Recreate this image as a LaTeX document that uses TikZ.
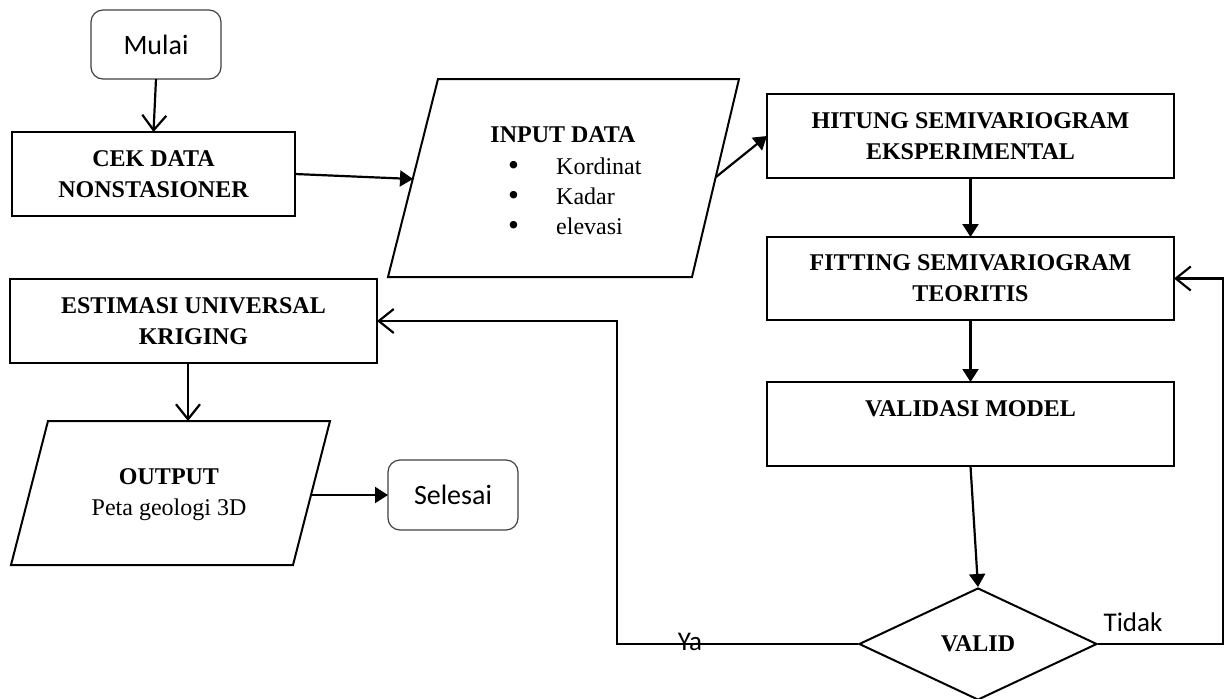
\documentclass[tikz,border=0pt]{standalone}
\usepackage{fontspec}
\setmainfont{Liberation Serif}
\newfontfamily\calibri{Carlito}
\usetikzlibrary{arrows.meta,shapes.geometric}
\newcommand{\bigbul}{\raisebox{-1.5pt}{\scalebox{1.3}{\textbullet}}}
\begin{document}
\begin{tikzpicture}[x=1pt,y=-1pt,
  box/.style={draw, line width=2.5pt, rectangle, inner sep=0pt, outer sep=0pt, align=center,
    font=\bfseries\fontsize{24}{31}\selectfont},
  term/.style={draw=black!75, line width=1.2pt, rounded corners=12pt, inner sep=0pt, outer sep=0pt,
    font=\calibri\fontsize{28}{32}\selectfont},
  arr/.style={line width=2.2pt, -{Triangle[length=13pt,width=16pt]}},
  oarr/.style={line width=2.2pt, -{Straight Barb[length=15pt,width=24pt,line width=2.2pt]}},
  io/.style={line width=2pt, line join=miter},
  txt/.style={font=\fontsize{24}{31}\selectfont, inner sep=0pt},
  lbl/.style={font=\calibri\fontsize{27}{30}\selectfont, inner sep=0pt}
]
\useasboundingbox (0,0) rectangle (1227,699);

% terminals
\node[term, minimum width=130pt, minimum height=69pt] (mulai) at (156,44.5) {Mulai};
\node[term, minimum width=130pt, minimum height=70pt] (selesai) at (453,495) {Selesai};

% process boxes
\node[box, minimum width=283pt, minimum height=84pt] (cek) at (153.5,174) {CEK DATA\\NONSTASIONER};
\node[box, minimum width=407pt, minimum height=84pt] (hitung) at (970.5,136) {HITUNG SEMIVARIOGRAM\\EKSPERIMENTAL};
\node[box, minimum width=407pt, minimum height=83pt] (fitting) at (970.5,278.5) {FITTING SEMIVARIOGRAM\\TEORITIS};
\node[box, minimum width=407pt, minimum height=84pt] (validasi) at (970.5,424) {VALIDASI MODEL\\\mbox{}};
\node[box, minimum width=367pt, minimum height=84pt] (estimasi) at (193.5,321) {ESTIMASI UNIVERSAL\\KRIGING};

% decision
\node[draw, diamond, line width=2pt, minimum width=238pt, minimum height=112pt, inner sep=0pt,
  font=\bfseries\fontsize{24}{31}\selectfont] (valid) at (978,644) {VALID};

% input parallelogram
\draw[io] (438,79) -- (739,79) -- (692,277) -- (388,277) -- cycle;
\coordinate (inW) at (413,179);
\coordinate (inE) at (716,177);
\node[txt, font=\bfseries\fontsize{24}{31}\selectfont, anchor=base] (input) at (563,142) {INPUT DATA};
\node[txt, font=\fontsize{24}{30}\selectfont, align=left, anchor=north west] (inlist) at (508,157.6)
  {\makebox[48pt][l]{\bigbul}Kordinat\\\makebox[48pt][l]{\bigbul}Kadar\\\makebox[48pt][l]{\bigbul}elevasi};

% output parallelogram
\draw[io] (48,421) -- (330,421) -- (293,565) -- (11,565) -- cycle;
\coordinate (outN) at (188,421);
\coordinate (outE) at (311,495);
\node[txt, align=center] (output) at (169,495) {\textbf{OUTPUT}\\Peta geologi 3D};

% connectors
\draw[oarr] (mulai.south) -- (cek.north);
\draw[arr] (cek.east) -- (inW);
\draw[arr] (inE) -- (hitung.west);
\draw[arr] (hitung.south) -- (fitting.north);
\draw[arr] (fitting.south) -- (validasi.south |- validasi.north);
\draw[arr] (validasi.south) -- (valid.north);
\draw[oarr] (valid.west) -- ++(-241,0) |- (estimasi.east);
\draw[oarr] (valid.east) -- ++(125,0) |- (fitting.east);
\draw[oarr] (estimasi.south -| outN) -- (outN);
\draw[arr] (outE) -- (selesai.west);

% labels
\node[lbl] (ya) at (690,642) {Ya};
\node[lbl] (tidak) at (1133,622) {Tidak};
\end{tikzpicture}
\end{document}
